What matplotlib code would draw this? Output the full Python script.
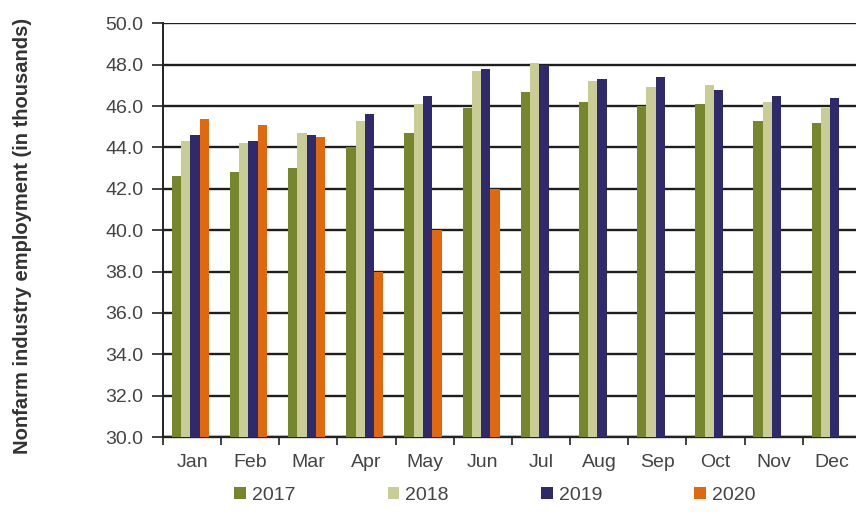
import numpy as np
import matplotlib
matplotlib.use("Agg")
import matplotlib.pyplot as plt
from matplotlib.patches import Patch

plt.rcParams['font.family'] = ['Liberation Sans', 'DejaVu Sans']

months = ['Jan', 'Feb', 'Mar', 'Apr', 'May', 'Jun',
          'Jul', 'Aug', 'Sep', 'Oct', 'Nov', 'Dec']
years = ['2017', '2018', '2019', '2020']

emp_2017 = [42.6, 42.8, 43.0, 44.0, 44.7, 45.9, 46.7, 46.2, 46.0, 46.1, 45.3, 45.2]
emp_2018 = [44.3, 44.2, 44.7, 45.3, 46.1, 47.7, 48.1, 47.2, 46.9, 47.0, 46.2, 45.9]
emp_2019 = [44.6, 44.3, 44.6, 45.6, 46.5, 47.8, 48.0, 47.3, 47.4, 46.8, 46.5, 46.4]
emp_2020 = [45.4, 45.1, 44.5, 38.0, 40.0, 42.0]

colors = ['#76862c', '#c9cc94', '#2f2a6c', '#e0690f']
series = [emp_2017, emp_2018, emp_2019, emp_2020]

fig = plt.figure(figsize=(8.56, 5.31), dpi=100)
ax = fig.add_axes([0.1904, 0.1770, 0.8154, 0.7790])

x = np.arange(len(months))
w = 0.16
base = 30.0
for i, (vals, c) in enumerate(zip(series, colors)):
    xs = x[:len(vals)] + (i - 1.5) * w - 0.03
    ax.bar(xs, np.array(vals) - base, width=w, bottom=base, color=c,
           zorder=3, linewidth=0)

ax.set_xlim(-0.5, len(months) - 0.5)
ax.set_ylim(30, 50)
ax.set_yticks(np.arange(30, 50.1, 2))
ax.set_yticklabels([f'{v:.1f}' for v in np.arange(30, 50.1, 2)])
ax.yaxis.grid(True, color='#1e1e1e', linewidth=1.7, zorder=1)

# month ticks at the category boundaries, labels in the middle
ax.set_xticks(np.arange(-0.5, len(months), 1))
ax.set_xticklabels([])
ax.set_xticks(x, minor=True)
ax.set_xticklabels(months, minor=True)
ax.tick_params(axis='x', which='major', direction='out', length=6,
               width=1.2, color='#222222')
ax.tick_params(axis='x', which='minor', length=0, pad=12,
               labelsize=14, labelcolor='#444444')
ax.tick_params(axis='y', direction='out', length=8, width=1.2,
               color='#222222', labelsize=14, labelcolor='#444444', pad=6)

for s in ['top', 'right']:
    ax.spines[s].set_visible(False)
ax.spines['left'].set_color('#222222')
ax.spines['left'].set_linewidth(1.4)
ax.spines['bottom'].set_color('#222222')
ax.spines['bottom'].set_linewidth(1.7)

fig.text(0.026, 0.555, 'Nonfarm industry employment (in thousands)',
         rotation=90, ha='center', va='center', fontsize=14.5,
         fontweight='bold', color='#333333')

handles = [Patch(facecolor=c, edgecolor='none') for c in colors]
fig.legend(handles, years, loc='center', bbox_to_anchor=(0.578, 0.067),
           ncol=4, frameon=False, fontsize=14, handlelength=0.6,
           handleheight=0.6, handletextpad=0.3, columnspacing=4.75,
           labelcolor='#444444')

fig.savefig('out.png', dpi=100)
